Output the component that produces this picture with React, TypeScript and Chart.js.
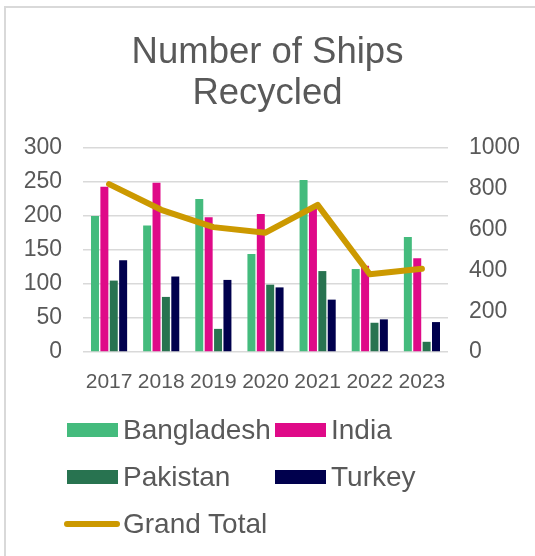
import React, { useEffect, useRef } from "react";
import { Chart, registerables } from "chart.js";

Chart.register(...registerables);

const categories = ["2017", "2018", "2019", "2020", "2021", "2022", "2023"];
const bangladesh = [200, 186, 225, 144, 253, 122, 169];
const india = [243, 249, 198, 203, 211, 127, 138];
const pakistan = [105, 81, 34, 99, 119, 43, 15];
const turkey = [135, 111, 106, 95, 77, 48, 44];
const grandTotal = [823, 697, 612, 585, 721, 381, 408];

const seriesNames = ["Bangladesh", "India", "Pakistan", "Turkey", "Grand Total"];
const seriesColors = ["#44BB7D", "#DF0A88", "#287350", "#00004D", "#CC9900"];

const FONT = "'Liberation Sans', Arial, Helvetica, sans-serif";
const TEXT = "#595959";

type LegendItem = { name: string; color: string; left: number; center: number; line?: boolean };

const legendItems: LegendItem[] = [
  { name: seriesNames[0], color: seriesColors[0], left: 67, center: 429.5 },
  { name: seriesNames[1], color: seriesColors[1], left: 275, center: 429.5 },
  { name: seriesNames[2], color: seriesColors[2], left: 67, center: 476.5 },
  { name: seriesNames[3], color: seriesColors[3], left: 275, center: 476.5 },
  { name: seriesNames[4], color: seriesColors[4], left: 64, center: 523.5, line: true },
];

export default function App() {
  const canvasRef = useRef<HTMLCanvasElement | null>(null);

  useEffect(() => {
    const canvas = canvasRef.current;
    if (!canvas) return;
    const barCommon = { categoryPercentage: 0.72, barPercentage: 0.85, order: 1, yAxisID: "y" };
    const chart = new Chart(canvas, {
      type: "bar",
      data: {
        labels: categories,
        datasets: [
          { ...barCommon, type: "bar", label: seriesNames[0], data: bangladesh, backgroundColor: seriesColors[0] },
          { ...barCommon, type: "bar", label: seriesNames[1], data: india, backgroundColor: seriesColors[1] },
          { ...barCommon, type: "bar", label: seriesNames[2], data: pakistan, backgroundColor: seriesColors[2] },
          { ...barCommon, type: "bar", label: seriesNames[3], data: turkey, backgroundColor: seriesColors[3] },
          {
            type: "line",
            label: seriesNames[4],
            data: grandTotal,
            yAxisID: "y1",
            borderColor: seriesColors[4],
            backgroundColor: seriesColors[4],
            borderWidth: 6,
            pointRadius: 0,
            borderJoinStyle: "round",
            borderCapStyle: "round",
            tension: 0,
            order: 0,
          } as any,
        ],
      },
      options: {
        responsive: false,
        animation: false,
        devicePixelRatio: 1,
        layout: { padding: { left: 0, right: 0, top: 0, bottom: 164 } },
        plugins: {
          legend: { display: false },
          tooltip: { enabled: false },
          title: {
            display: true,
            text: ["Number of Ships", "Recycled"],
            color: TEXT,
            font: { family: FONT, size: 36.5, weight: "normal", lineHeight: 1.123 },
            padding: { top: 32, bottom: 34 },
          },
        },
        scales: {
          x: {
            grid: { display: false },
            border: { display: false },
            ticks: { color: TEXT, font: { family: FONT, size: 21 }, padding: 10, maxRotation: 0, autoSkip: false },
            afterFit: (s: any) => {
              s.height = 40;
            },
          },
          y: {
            position: "left",
            min: 0,
            max: 300,
            ticks: { stepSize: 50, color: TEXT, font: { family: FONT, size: 23 }, padding: 21 },
            grid: { color: "#D9D9D9", lineWidth: 1.5, drawTicks: false },
            border: { display: false },
            afterFit: (s: any) => {
              s.width = 83;
            },
          },
          y1: {
            position: "right",
            min: 0,
            max: 1000,
            ticks: {
              stepSize: 200,
              color: TEXT,
              font: { family: FONT, size: 23 },
              padding: 21,
              callback: (v: any) => String(v),
            },
            grid: { display: false, drawTicks: false },
            border: { display: false },
            afterFit: (s: any) => {
              s.width = 87;
            },
          },
        },
      } as any,
    });
    return () => chart.destroy();
  }, []);

  return (
    <div style={{ position: "absolute", left: 0, top: 0, width: 535, height: 556, background: "#fff", overflow: "hidden" }}>
      <div
        style={{
          position: "absolute",
          left: 4,
          top: 6,
          width: 540,
          height: 560,
          borderLeft: "2px solid #D9D9D9",
          borderTop: "2px solid #D9D9D9",
          boxSizing: "border-box",
        }}
      />
      <canvas ref={canvasRef} width={535} height={556} style={{ position: "absolute", left: 0, top: 0, width: 535, height: 556 }} />
      {legendItems.map((it) => (
        <div
          key={it.name}
          style={{
            position: "absolute",
            left: it.left,
            top: it.center - 20,
            height: 40,
            display: "flex",
            alignItems: "center",
            fontFamily: FONT,
            fontSize: 28,
            color: TEXT,
            whiteSpace: "nowrap",
          }}
        >
          {it.line ? (
            <span style={{ display: "inline-block", width: 56, height: 6, borderRadius: 3, background: it.color }} />
          ) : (
            <span style={{ display: "inline-block", width: 51, height: 14, background: it.color }} />
          )}
          <span style={{ marginLeft: it.line ? 3 : 5, lineHeight: 1 }}>{it.name}</span>
        </div>
      ))}
    </div>
  );
}
